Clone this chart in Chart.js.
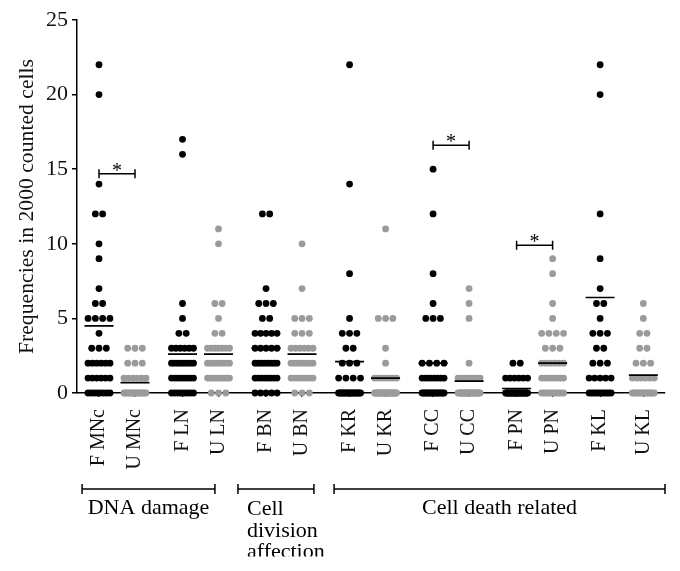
<!DOCTYPE html>
<html><head><meta charset="utf-8">
<script src="https://cdn.jsdelivr.net/npm/chart.js@4"></script>
<style>html,body{margin:0;padding:0;background:#fff}</style>
</head><body>
<canvas id="c" width="680" height="571"></canvas>
<script>
// ---- data (value, count of subjects with that value) ----
const categories = ['F MNc','U MNc','F LN','U LN','F BN','U BN','F KR','U KR','F CC','U CC','F PN','U PN','F KL','U KL'];
const F_MNc = [[0,8],[1,6],[2,6],[3,3],[4,1],[5,4],[6,2],[7,1],[9,1],[10,1],[12,2],[14,1],[20,1],[22,1]];
const U_MNc = [[0,16],[1,6],[2,3],[3,3]];
const F_LN  = [[0,8],[1,8],[2,8],[3,6],[4,2],[5,1],[6,1],[16,1],[17,1]];
const U_LN  = [[0,3],[1,10],[2,8],[3,7],[4,2],[5,1],[6,2],[10,1],[11,1]];
const F_BN  = [[0,5],[1,8],[2,8],[3,5],[4,5],[5,2],[6,3],[7,1],[12,2]];
const U_BN  = [[0,3],[1,8],[2,8],[3,6],[4,3],[5,3],[7,1],[10,1]];
const F_KR  = [[0,18],[1,4],[2,3],[3,2],[4,3],[5,1],[8,1],[14,1],[22,1]];
const U_KR  = [[0,26],[1,8],[2,1],[3,1],[5,3],[11,1]];
const F_CC  = [[0,16],[1,8],[2,4],[5,3],[6,1],[8,1],[12,1],[15,1]];
const U_CC  = [[0,22],[1,8],[2,1],[5,1],[6,1],[7,1]];
const F_PN  = [[0,24],[1,6],[2,2]];
const U_PN  = [[0,10],[1,8],[2,6],[3,3],[4,4],[5,1],[6,1],[8,1],[9,1]];
const F_KL  = [[0,10],[1,5],[2,3],[3,2],[4,3],[5,1],[6,2],[7,1],[9,1],[12,1],[20,1],[22,1]];
const U_KL  = [[0,14],[1,6],[2,3],[3,2],[4,2],[5,1],[6,1]];
const series = [F_MNc,U_MNc,F_LN,U_LN,F_BN,U_BN,F_KR,U_KR,F_CC,U_CC,F_PN,U_PN,F_KL,U_KL];
const means = [4.5,0.7,2.6,2.6,3.0,2.6,2.1,1.0,2.0,0.8,0.3,2.0,6.4,1.2];
const yTicks = [0,5,10,15,20,25];
const sigPairs = [[0,1],[8,9],[10,11]];
const sigLevels = [14.7,16.6,9.9];
const groupNames = [['DNA damage'],['Cell','division','affection'],['Cell death related']];

// ---- layout (positions / sizes / styles) ----
const SLOT = [0,1,2.32,3.32,4.64,5.64,6.96,7.96,9.28,10.28,11.6,12.6,13.92,15.12];
const X_MIN = -0.611, X_MAX = 15.722;
const PX_PER_UNIT = 36;
const GROUP_SPAN = [[-0.47,3.22],[3.86,5.97],[6.53,15.722]];
const GROUP_ALIGN = ['center','left','center'];
const COLOR_F = '#000000', COLOR_U = '#9b9b9b';
const FONT = "'Liberation Serif','Times New Roman',serif";

const dotDatasets = series.map((rows, ci) => {
  const pts = [];
  rows.forEach(([v, n]) => {
    const s = n > 1 ? Math.min(7.3, 22 / (n - 1)) : 0;
    for (let k = 0; k < n; k++) {
      pts.push({x: SLOT[ci] + (k - (n - 1) / 2) * s / PX_PER_UNIT, y: v});
    }
  });
  const col = categories[ci].startsWith('F') ? COLOR_F : COLOR_U;
  return {type:'scatter', data: pts, pointRadius: 3.4, pointBorderWidth: 0,
    backgroundColor: col, borderColor: col, clip: false, order: 2};
});

const meanPts = [];
means.forEach((m, i) => {
  const hw = 14.5 / PX_PER_UNIT;
  meanPts.push({x: SLOT[i] - hw, y: m}, {x: SLOT[i] + hw, y: m}, {x: SLOT[i] + hw, y: null});
});
const meanDataset = {type:'line', data: meanPts, borderColor:'#000', borderWidth:1.7,
  pointRadius:0, spanGaps:false, clip:false, order:0, fill:false};

const annot = {
  id: 'annot',
  afterDraw(chart) {
    const ctx = chart.ctx, xs = chart.scales.x, ys = chart.scales.y;
    const area = chart.chartArea;
    ctx.save();
    ctx.strokeStyle = '#000'; ctx.fillStyle = '#000'; ctx.lineWidth = 1.5;
    // significance brackets
    sigPairs.forEach(([a, b], i) => {
      const x1 = xs.getPixelForValue(SLOT[a]), x2 = xs.getPixelForValue(SLOT[b]);
      const y = ys.getPixelForValue(sigLevels[i]);
      ctx.beginPath();
      ctx.moveTo(x1, y - 4.5); ctx.lineTo(x1, y + 4.5);
      ctx.moveTo(x1, y); ctx.lineTo(x2, y);
      ctx.moveTo(x2, y - 4.5); ctx.lineTo(x2, y + 4.5);
      ctx.stroke();
      ctx.font = '20px ' + FONT; ctx.textAlign = 'center'; ctx.textBaseline = 'alphabetic';
      ctx.fillText('*', (x1 + x2) / 2, y + 3);
    });
    // group brackets
    const gy = area.bottom + 96;
    GROUP_SPAN.forEach(([a, b], i) => {
      const x1 = xs.getPixelForValue(a), x2 = xs.getPixelForValue(b);
      ctx.beginPath();
      ctx.moveTo(x1, gy - 5); ctx.lineTo(x1, gy + 5);
      ctx.moveTo(x1, gy); ctx.lineTo(x2, gy);
      ctx.moveTo(x2, gy - 5); ctx.lineTo(x2, gy + 5);
      ctx.stroke();
      ctx.font = '22px ' + FONT; ctx.textBaseline = 'alphabetic';
      const lines = groupNames[i];
      if (GROUP_ALIGN[i] === 'center') {
        ctx.textAlign = 'center';
        ctx.fillText(lines[0], (x1 + x2) / 2, gy + 25);
      } else {
        ctx.textAlign = 'left';
        lines.forEach((t, k) => ctx.fillText(t, x1 + 9, gy + 26 + k * 21.7));
      }
    });
    // original figure is cropped here
    ctx.fillStyle = '#fff';
    ctx.fillRect(0, 556.5, chart.width, chart.height - 556.5);
    ctx.restore();
  }
};

Chart.defaults.font.family = FONT;
Chart.defaults.color = '#111';

new Chart(document.getElementById('c'), {
  type: 'scatter',
  data: { datasets: [...dotDatasets, meanDataset] },
  options: {
    responsive: false, animation: false, devicePixelRatio: 1,
    layout: { padding: { top: 20, right: 15, left: 0, bottom: 0 } },
    plugins: { legend: {display:false}, tooltip: {enabled:false} },
    scales: {
      x: {
        type: 'linear', min: X_MIN, max: X_MAX,
        afterBuildTicks: s => { s.ticks = SLOT.map(v => ({value: v})); },
        afterFit: s => { s.height = 178; },
        ticks: { autoSkip:false, minRotation:90, maxRotation:90, padding: 12,
          font: {size: 20}, color:'#111',
          callback: (v, i) => categories[i] },
        grid: { display:true, drawOnChartArea:false, drawTicks:true, tickLength:4, color:'#000', lineWidth:1.2 },
        border: { display:true, color:'#000', width:1.5 }
      },
      y: {
        min: 0, max: 25,
        afterBuildTicks: s => { s.ticks = yTicks.map(v => ({value: v})); },
        afterFit: s => { s.width = 77; },
        ticks: { padding: 4, font: {size: 22}, color:'#111' },
        grid: { display:true, drawOnChartArea:false, drawTicks:true, tickLength:5, color:'#000', lineWidth:1.5 },
        border: { display:true, color:'#000', width:1.5 },
        title: { display:true, text:'Frequencies in 2000 counted cells', font:{size:21.7}, color:'#111',
          padding: {top: 14, bottom: 0} }
      }
    }
  },
  plugins: [annot]
});
</script>
</body></html>
